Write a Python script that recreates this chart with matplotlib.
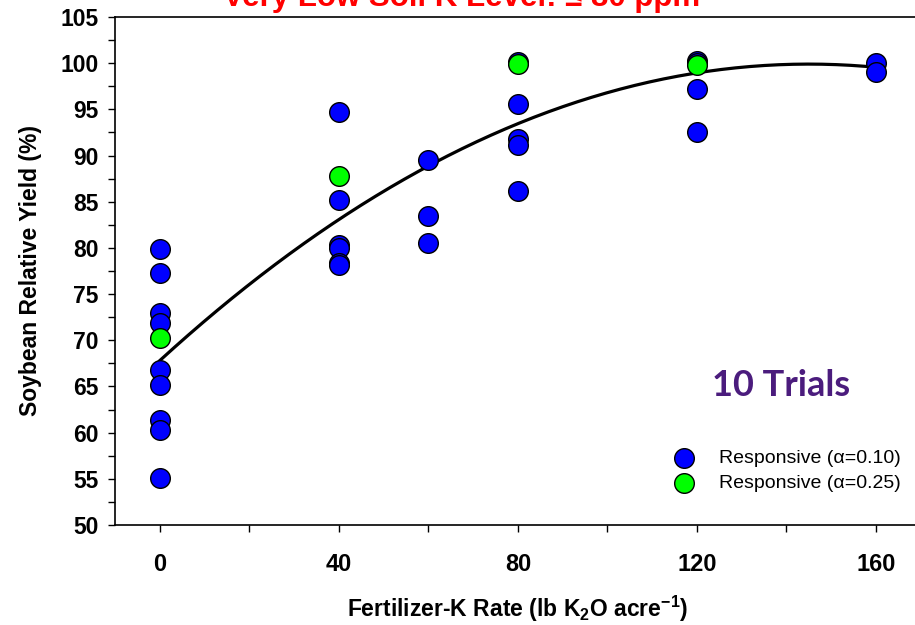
import numpy as np
import matplotlib
matplotlib.use('Agg')
from matplotlib import pyplot as plt
from matplotlib.ticker import MultipleLocator

plt.rcParams['font.family'] = ['Liberation Sans', 'DejaVu Sans']
plt.rcParams['mathtext.fontset'] = 'custom'
plt.rcParams['mathtext.rm'] = 'Liberation Sans'
plt.rcParams['mathtext.bf'] = 'Liberation Sans:bold'

# relative yield (%) by K rate, split by significance level
rate_10 = [0, 0, 0, 0, 0, 0, 0, 0, 0,
           40, 40, 40, 40, 40, 40,
           60, 60, 60,
           80, 80, 80, 80, 80,
           120, 120, 120, 120,
           160, 160]
yield_10 = [79.9, 77.3, 72.9, 71.9, 66.8, 65.2, 61.4, 60.3, 55.1,
            94.7, 85.2, 80.3, 80.0, 78.4, 78.1,
            89.5, 83.5, 80.5,
            100.1, 95.6, 91.8, 91.1, 86.2,
            100.2, 100.0, 97.2, 92.6,
            100.0, 99.0]
rate_25 = [0, 40, 80, 120]
yield_25 = [70.3, 87.8, 99.9, 99.8]

# quadratic fit: y = b0 + b1*x + b2*x^2
b0, b1, b2 = 67.8, 0.4428, -0.001527


def main():
    fig = plt.figure(figsize=(9.15, 6.25), dpi=100)
    ax = fig.add_axes([0.1257, 0.16, 0.8806, 0.8128])

    xs = np.linspace(0, 160, 200)
    ax.plot(xs, b0 + b1 * xs + b2 * xs ** 2, color='black', lw=2.3, zorder=2)

    ax.scatter(rate_10, yield_10, s=200, color='#0000FF', edgecolor='black',
               linewidth=1.0, zorder=3, label='Responsive (\u03b1=0.10)')
    ax.scatter(rate_25, yield_25, s=200, color='#00FF00', edgecolor='black',
               linewidth=1.0, zorder=4, label='Responsive (\u03b1=0.25)')

    ax.set_xlim(-10, 170)
    ax.set_ylim(50, 105)
    ax.xaxis.set_major_locator(MultipleLocator(40))
    ax.xaxis.set_minor_locator(MultipleLocator(20))
    ax.yaxis.set_major_locator(MultipleLocator(5))
    ax.yaxis.set_minor_locator(MultipleLocator(2.5))
    ax.tick_params(which='both', direction='out', length=5, width=1, color='black')
    ax.tick_params(axis='x', which='major', labelsize=17, pad=15)
    ax.tick_params(axis='y', which='major', labelsize=16.5, pad=7)
    for lab in ax.get_xticklabels() + ax.get_yticklabels():
        lab.set_fontweight('bold')
    for side in ['left', 'bottom', 'top']:
        ax.spines[side].set_linewidth(1.2)
    ax.spines['right'].set_visible(False)

    ax.set_xlabel(r'Fertilizer-K Rate (lb K$_\mathbf{2}$O acre$^{\mathbf{-1}}$)',
                  fontsize=16.5, fontweight='bold', labelpad=13)
    ax.set_ylabel('Soybean Relative Yield (%)', fontsize=16.5, fontweight='bold', labelpad=13)

    fig.text(0.505, 0.99, 'Very Low Soil K Level: \u2264 80 ppm', color='#FF0000',
             fontsize=22.5, fontweight='bold', ha='center', va='baseline')
    ax.text(0.826, 0.274, '10 Trials', transform=ax.transAxes, color='#4B1C7D',
            fontsize=26, fontweight='bold', family=['Lato', 'DejaVu Sans'],
            ha='center', va='center')

    ax.legend(loc='lower left', bbox_to_anchor=(0.66, 0.03), frameon=False,
              fontsize=14, handletextpad=0.8, labelspacing=0.38, scatterpoints=1)

    fig.savefig('out.png', dpi=100)


if __name__ == "__main__":
    main()
